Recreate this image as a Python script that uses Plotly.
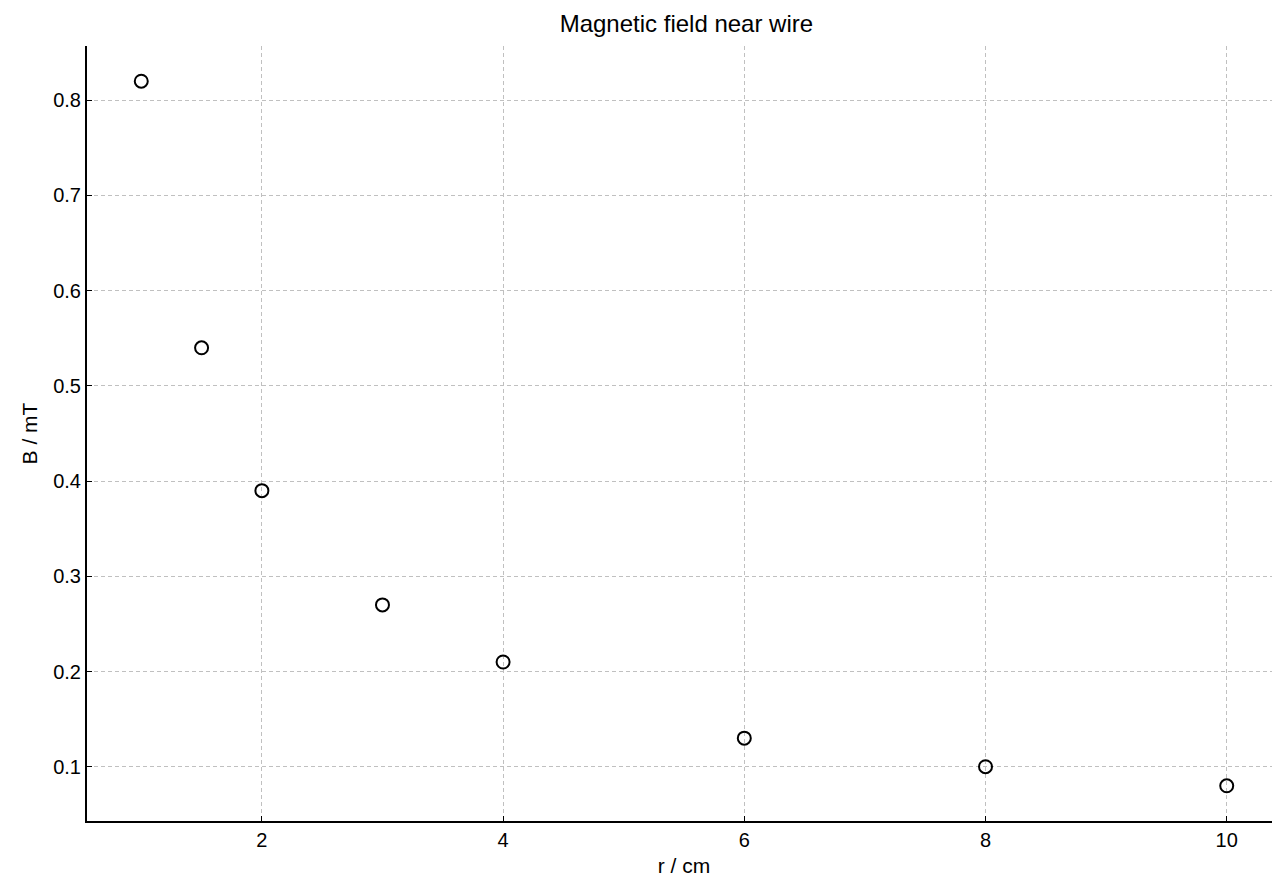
import plotly.graph_objects as go

r_cm = [1, 1.5, 2, 3, 4, 6, 8, 10]
B_mT = [0.82, 0.54, 0.39, 0.27, 0.21, 0.13, 0.10, 0.08]

fig = go.Figure(go.Scatter(
    x=r_cm, y=B_mT, mode="markers",
    marker=dict(symbol="circle-open", size=13, color="black", line=dict(width=2)),
))
ax = dict(showline=True, linecolor="black", linewidth=2, ticks="inside", ticklen=5,
          tickcolor="black", showgrid=True, gridcolor="#c0c0c0", griddash="4px,3px",
          gridwidth=1, zeroline=False, tickfont=dict(size=20, color="black"),
          mirror=False, automargin=False)
fig.update_layout(
    width=1280, height=880, plot_bgcolor="white", paper_bgcolor="white",
    font=dict(family="Liberation Sans, Arial, sans-serif", color="black", size=20),
    title=dict(text="Magnetic field near wire", x=0.53, xanchor="center", y=0.992,
               yanchor="top", font=dict(size=24)),
    margin=dict(l=79, r=7, t=38, b=67),
    xaxis=dict(ax, range=[0.55, 10.45], tickvals=[2, 4, 6, 8, 10],
               title=dict(text="r / cm", standoff=8, font=dict(size=21))),
    yaxis=dict(ax, range=[0.043, 0.857], tickvals=[0.1, 0.2, 0.3, 0.4, 0.5, 0.6, 0.7, 0.8],
               tickformat=".1f", title=dict(text="B / mT", standoff=10, font=dict(size=21))),
    showlegend=False,
)
fig.write_html("out.html")
